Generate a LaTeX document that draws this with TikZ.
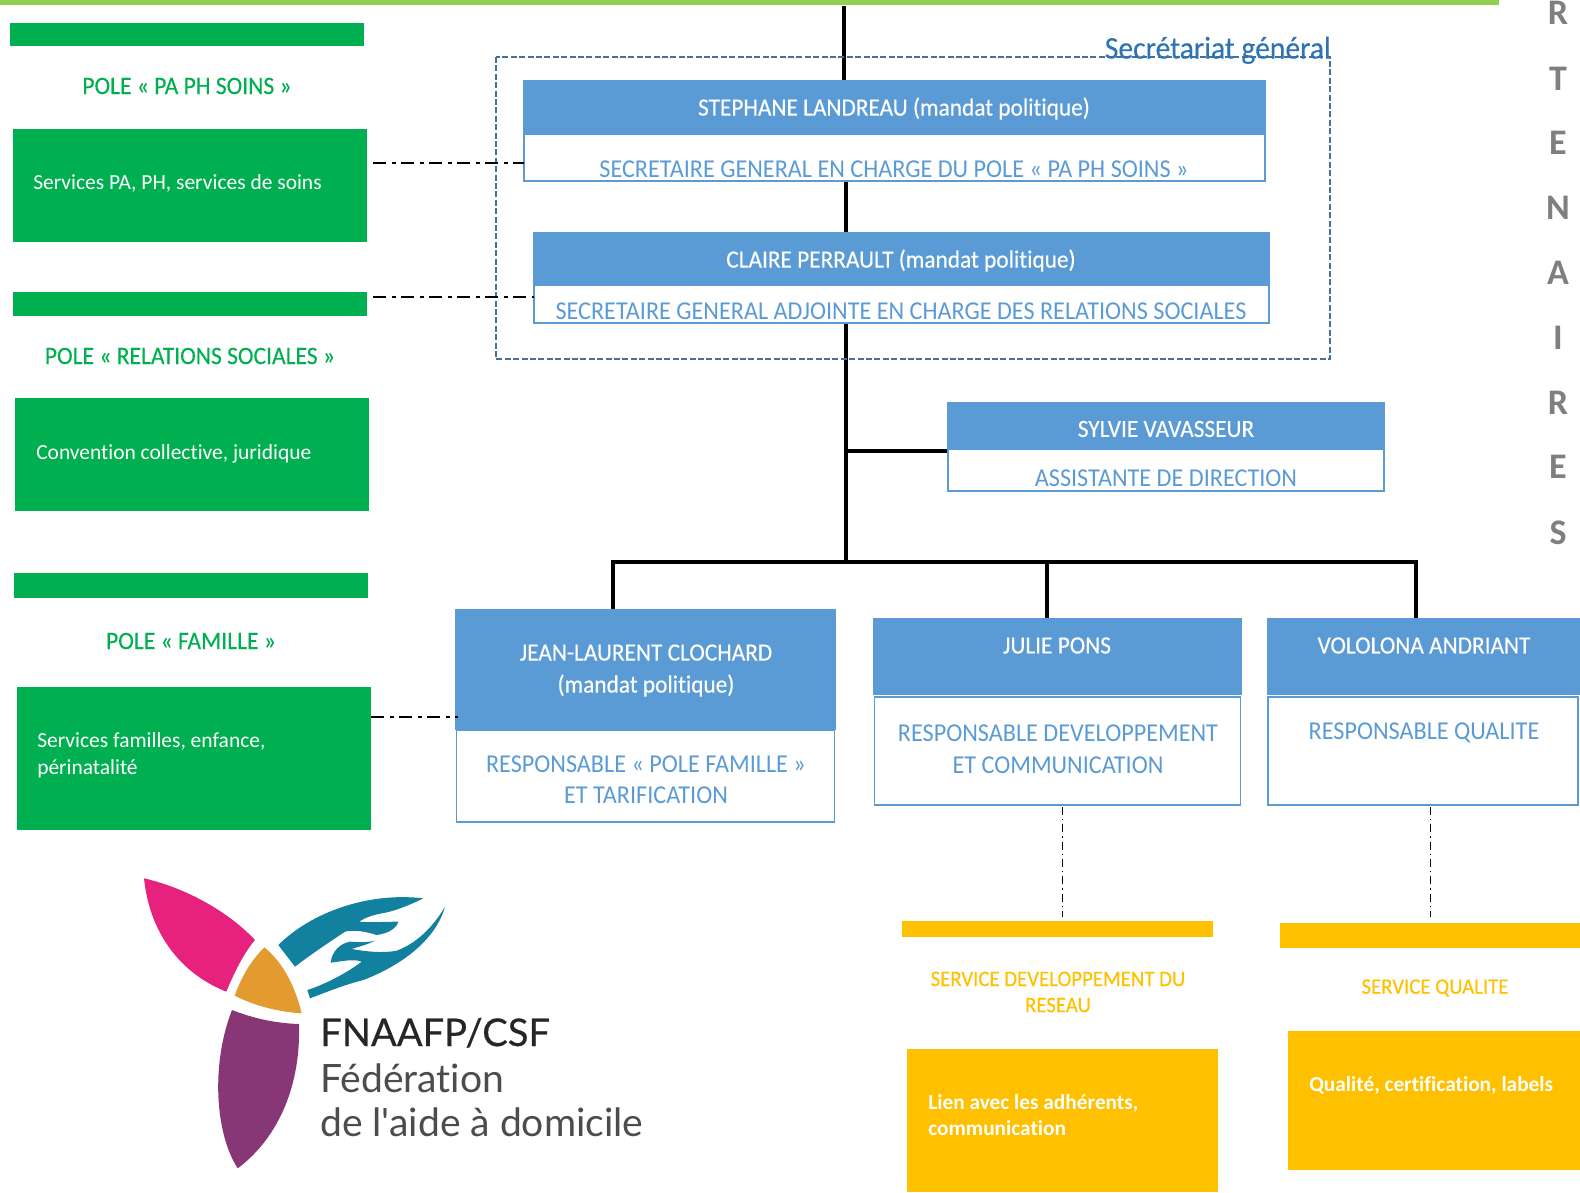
\documentclass[tikz,border=0pt]{standalone}
\usepackage{fontspec}
\setmainfont[RawFeature=-liga]{Carlito}
\newfontfamily\logofont[RawFeature=-liga]{Lato}
\newfontfamily\logobold[FakeBold=0.5,RawFeature=-liga]{Lato}
\newfontfamily\condfam[FakeStretch=0.94,RawFeature=-liga]{Carlito}
\newfontfamily\condbold[FakeStretch=0.94,FakeBold=0.25,RawFeature=-liga]{Carlito}
\definecolor{bluefill}{HTML}{5B9BD5}
\definecolor{greenfill}{HTML}{00B050}
\definecolor{topbar}{HTML}{92D050}
\definecolor{orangefill}{HTML}{FFC000}
\definecolor{framecol}{HTML}{41719C}
\definecolor{sgcol}{HTML}{2E74B5}
\definecolor{greyletter}{HTML}{7F7F7F}
\definecolor{pinklogo}{HTML}{E6217E}
\definecolor{teallogo}{HTML}{12809F}
\definecolor{orangelogo}{HTML}{E39A2E}
\definecolor{purplelogo}{HTML}{873776}
\tikzset{
 x=0.75pt,y=-0.75pt,
 bluehead/.style={fill=bluefill},
 whitebody/.style={draw=bluefill,line width=0.8pt,fill=white},
 trunk/.style={line width=2.9pt,black},
 dotdash/.style={line width=2pt,black,dash pattern=on 10pt off 4pt on 3pt off 4pt},
 thindash/.style={line width=0.7pt,black,dash pattern=on 6pt off 3pt on 1pt off 3pt},
 headtxt/.style={font=\fontsize{18.6}{24}\selectfont\condbold,white,align=center,inner sep=0pt},
 roletxt/.style={font=\fontsize{19.3}{24}\selectfont\condfam,bluefill,align=center,inner sep=0pt},
 poletxt/.style={font=\fontsize{18.8}{24}\selectfont\condbold,greenfill,inner sep=0pt},
 wtxt/.style={font=\fontsize{16.1}{20.4}\selectfont,white,align=left,anchor=west,inner sep=0pt},
 otxt/.style={font=\fontsize{16.6}{19.6}\selectfont\condbold,orangefill,align=center,inner sep=0pt},
 obold/.style={font=\fontsize{16}{19.6}\selectfont\bfseries,white,align=left,anchor=west,inner sep=0pt},
 ltxt/.style={font=\fontsize{27}{27}\selectfont\bfseries,greyletter,inner sep=0pt},
 logoline/.style={font=\fontsize{29.3}{29}\selectfont\logofont,text=black!70,anchor=base west,inner sep=0pt},
}
\begin{document}
\begin{tikzpicture}
\useasboundingbox (0,0) rectangle (1580,1192);
\fill[white] (0,0) rectangle (1580,1192);
\fill[topbar] (0,0) rectangle (1499,5);
% left column
\fill[greenfill] (10,23) rectangle (364,46);
\fill[greenfill] (13,129) rectangle (367,242);
\fill[greenfill] (13,292) rectangle (367,316);
\fill[greenfill] (15,398) rectangle (369,511);
\fill[greenfill] (14,573) rectangle (368,598);
\fill[greenfill] (17,687) rectangle (371,830);
\coordinate (p1) at (373,163);
\coordinate (p2) at (373,297);
\coordinate (p3) at (371,717);
\node[poletxt] (t1) at (187,86) {POLE « PA PH SOINS »};
\node[poletxt] (t2) at (190,356) {POLE « RELATIONS SOCIALES »};
\node[poletxt] (t3) at (191,641) {POLE « FAMILLE »};
\node[wtxt] (s1) at (33,183) {Services PA, PH, services de soins};
\node[wtxt] (s2) at (36,454) {Convention collective, juridique};
\node[wtxt] (s3) at (37,755) {Services familles, enfance,\\périnatalité};
% trunk
\coordinate (top) at (844,6);
\coordinate (j0) at (846,451);
\coordinate (j1) at (846,562);
\coordinate (jl) at (613,562);
\coordinate (jm) at (1047,562);
\coordinate (jr) at (1416,562);
\draw[trunk] (top) -- (844,80);
\draw[trunk] (846,181) -- (846,232);
\draw[trunk] (846,323) -- (j1);
\draw[trunk] (j0) -- (947,451);
\draw[trunk,line cap=rect] (jl) -- (jr);
\draw[trunk] (jl) -- (613,609);
\draw[trunk] (jm) -- (1047,618);
\draw[trunk] (jr) -- (1416,618);
% frame
\draw[framecol,line width=1.9pt,dash pattern=on 4.5pt off 1.8pt] (496,57) rectangle (1330,359);
\node[font=\fontsize{23.6}{26}\selectfont\condbold,sgcol,anchor=base east,inner sep=0pt] (sg) at (1331,58.5) {Secrétariat général};
% people
\fill[bluehead] (523,80) rectangle (1266,133);
\draw[whitebody] (524,134) rectangle (1265,181);
\fill[bluehead] (533,232) rectangle (1270,285);
\draw[whitebody] (534,285) rectangle (1269,323);
\fill[bluehead] (947,402) rectangle (1385,449);
\draw[whitebody] (948,449) rectangle (1384,491);
\fill[bluehead] (455,608.5) rectangle (835.5,730);
\draw[whitebody] (456.5,730) rectangle (834.5,822);
\fill[bluehead] (873,618) rectangle (1241.5,695);
\draw[whitebody] (874.5,697) rectangle (1240.5,805);
\fill[bluehead] (1267,618) rectangle (1580,695);
\draw[whitebody] (1268,697) rectangle (1578,805);
\node[headtxt] (h1) at (894,108.5) {STEPHANE LANDREAU (mandat politique)};
\node[roletxt] (r1) at (894,169) {SECRETAIRE GENERAL EN CHARGE DU POLE « PA PH SOINS »};
\node[headtxt] (h2) at (901,260.5) {CLAIRE PERRAULT (mandat politique)};
\node[roletxt] (r2) at (901,311) {SECRETAIRE GENERAL ADJOINTE EN CHARGE DES RELATIONS SOCIALES};
\node[headtxt] (h3) at (1166,429) {SYLVIE VAVASSEUR};
\node[roletxt] (r3) at (1166,478) {ASSISTANTE DE DIRECTION};
\node[headtxt] (h4) at (646,670.5) {JEAN-LAURENT CLOCHARD\\(mandat politique)};
\node[roletxt,font=\fontsize{19.3}{23.5}\selectfont\condfam] (r4) at (646,779.5) {RESPONSABLE « POLE FAMILLE »\\ET TARIFICATION};
\node[headtxt] (h5) at (1057,645.5) {JULIE PONS};
\node[roletxt] (r5) at (1058,749) {RESPONSABLE DEVELOPPEMENT\\ET COMMUNICATION};
\node[headtxt] (h6) at (1424,645.5) {VOLOLONA ANDRIANT};
\node[roletxt] (r6) at (1424,733) {RESPONSABLE QUALITE};
% dotted links
\coordinate (b1) at (524,163);
\coordinate (b2) at (534,297);
\coordinate (b3) at (458,717);
\draw[dotdash] (p1) -- (b1);
\draw[dotdash] (p2) -- (b2);
\draw[dotdash] (p3) -- (b3);
\draw[thindash] (1062,807) -- (1062,917);
\draw[thindash] (1430,807) -- (1430,917);
% orange
\fill[orangefill] (902,921) rectangle (1213,937);
\fill[orangefill] (1280,923) rectangle (1580,948);
\fill[orangefill] (907,1049) rectangle (1218,1192);
\fill[orangefill] (1288,1031) rectangle (1580,1170);
\node[otxt] (o1) at (1058,992) {SERVICE DEVELOPPEMENT DU\\RESEAU};
\node[otxt] (o2) at (1435,988) {SERVICE QUALITE};
\node[obold] (o3) at (928,1115.5) {Lien avec les adhérents,\\communication};
\node[obold] (o4) at (1309,1085) {Qualité, certification, labels};
% side letters
\foreach \c/\yy in {R/13,T/79,E/143,N/208,A/273,I/338,R/403,E/467,S/533}
  \node[ltxt] at (1558,\yy) {\c};
% logo
\begin{scope}[shift={(100,850)},x=0.287pt,y=-0.25pt]
\fill[pinklogo] (115,85) .. controls (230,115) and (340,190) .. (405,270) .. controls (375,310) and (350,370) .. (330,425) .. controls (210,370) and (130,250) .. (115,85) -- cycle;
\fill[orangelogo] (430,292) .. controls (480,340) and (510,410) .. (527,490) .. controls (460,485) and (400,465) .. (352,437) .. controls (370,380) and (395,330) .. (430,292) -- cycle;
\fill[purplelogo] (345,480) .. controls (400,505) and (460,520) .. (520,522) .. controls (525,700) and (470,860) .. (360,955) .. controls (300,850) and (290,640) .. (345,480) -- cycle;
\end{scope}
\begin{scope}[shift={(260,880)},x=0.25pt,y=-0.25pt]
\fill[teallogo] (55,195) .. controls (150,100) and (320,35) .. (490,55) .. controls (450,75) and (400,95) .. (365,100) .. controls (340,105) and (315,112) .. (298,125) .. controls (335,128) and (380,125) .. (415,125) .. controls (410,145) and (385,160) .. (350,165) .. controls (320,155) and (280,148) .. (255,155) .. controls (210,185) and (150,225) .. (105,260) -- cycle;
\fill[teallogo] (555,80) .. controls (530,170) and (440,250) .. (310,300) .. controls (250,315) and (190,340) .. (150,355) -- (142,330) .. controls (190,315) and (260,280) .. (305,245) .. controls (280,235) and (240,245) .. (212,248) .. controls (215,215) and (240,190) .. (270,185) .. controls (300,187) and (330,187) .. (345,182) .. controls (320,195) and (295,200) .. (275,207) .. controls (320,215) and (370,220) .. (410,212) .. controls (470,190) and (520,140) .. (555,80) -- cycle;
\end{scope}
\node[logoline,font=\fontsize{28.6}{29}\selectfont\logobold,text=black!85] (lg1) at (320,1046) {FNAAFP/CSF};
\node[logoline] (lg2) at (320,1092) {Fédération};
\node[logoline] (lg3) at (320,1136) {de l'aide à domicile};
\end{tikzpicture}
\end{document}
